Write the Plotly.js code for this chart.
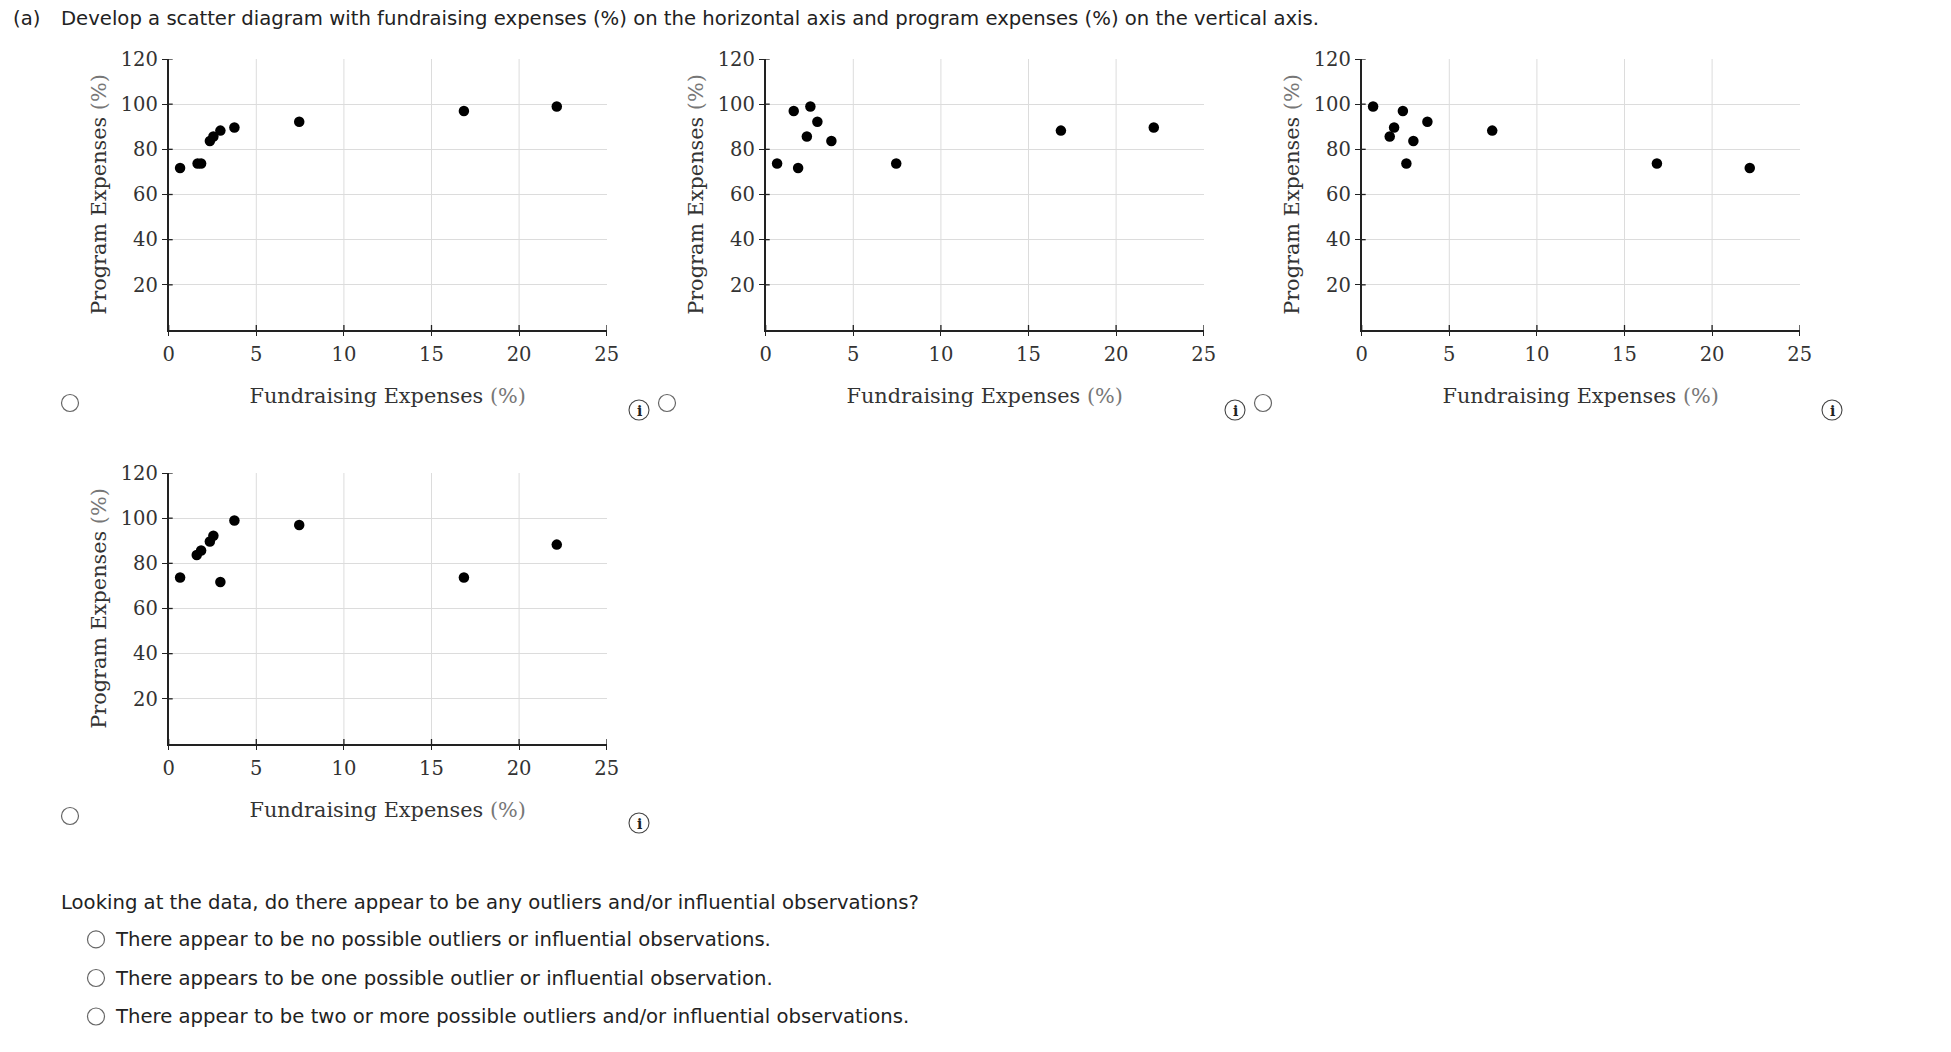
<!DOCTYPE html>
<html><head><meta charset="utf-8">
<script src="https://cdn.plot.ly/plotly-3.0.1.min.js"></script>
<style>html,body{margin:0;padding:0;background:#fff;overflow:hidden}</style>
</head><body><div id="chart" style="width:1951px;height:1052px"></div>
<script>
var W = 1951, H = 1052;
var xTicks = [0, 5, 10, 15, 20, 25];
var xGridVals = [5, 10, 15, 20];
var yTicks = [20, 40, 60, 80, 100, 120];
var xTitle = 'Fundraising Expenses <span style="color:#777">(%)</span>';
var yTitle = 'Program Expenses <span style="color:#777">(%)</span>';

var fundraising = [0.65, 1.65, 1.85, 2.35, 2.55, 2.95, 3.75, 7.45, 16.85, 22.15];
var programA = [71.7, 73.7, 73.7, 83.7, 85.7, 88.3, 89.7, 92.2, 97.0, 99.0];

var xB = [0.65, 1.6, 1.85, 2.35, 2.55, 2.95, 3.75, 7.45, 16.85, 22.15];
var programB = [73.7, 97.0, 71.7, 85.7, 99.0, 92.2, 83.7, 73.7, 88.3, 89.7];
var programC = [99.0, 85.7, 89.7, 97.0, 73.7, 83.7, 92.2, 88.3, 73.7, 71.7];
var programD = [73.7, 83.7, 85.7, 89.7, 92.2, 71.7, 99.0, 97.0, 73.7, 88.3];

var questionLine = '(a)';
var questionText = 'Develop a scatter diagram with fundraising expenses (%) on the horizontal axis and program expenses (%) on the vertical axis.';
var followUp = 'Looking at the data, do there appear to be any outliers and/or influential observations?';
var options = ['There appear to be no possible outliers or influential observations.',
  'There appears to be one possible outlier or influential observation.',
  'There appear to be two or more possible outliers and/or influential observations.'];

var panels = [
  {x: fundraising, y: programA, l: 168.7, r: 606.7, t: 59, b: 330, radio: [70, 403], info: [639, 410]},
  {x: xB, y: programB, l: 765.7, r: 1203.7, t: 59, b: 330, radio: [667, 403], info: [1235, 410]},
  {x: xB, y: programC, l: 1361.7, r: 1799.7, t: 59, b: 330, radio: [1263, 403], info: [1832, 410]},
  {x: xB, y: programD, l: 168.7, r: 606.7, t: 473, b: 744, radio: [70, 816], info: [639, 823]}
];

var serif = 'DejaVu Serif';
var sans = 'DejaVu Sans';
var px = function (v) { return v / W; };
var py = function (v) { return 1 - v / H; };
var traces = [], shapes = [], annotations = [];
var layout = {width: W, height: H, margin: {l: 0, r: 0, t: 0, b: 0}, showlegend: false,
  paper_bgcolor: '#fff', plot_bgcolor: '#fff', font: {family: serif, color: '#222'}};

function ring(cx, cy, r, col, w) {
  shapes.push({type: 'circle', xref: 'paper', yref: 'paper', x0: px(cx - r), x1: px(cx + r),
    y0: py(cy + r), y1: py(cy - r), line: {color: col, width: w}, fillcolor: 'rgba(0,0,0,0)'});
}
function label(text, x, y, size, family, anchor) {
  annotations.push({text: text, xref: 'paper', yref: 'paper', x: px(x), y: py(y), showarrow: false,
    xanchor: anchor || 'left', yanchor: 'middle', font: {family: family, size: size, color: '#222'}});
}

panels.forEach(function (p, i) {
  var n = i === 0 ? '' : String(i + 1);
  var xName = 'x' + n, yName = 'y' + n;
  traces.push({type: 'scatter', mode: 'markers', x: p.x, y: p.y, xaxis: xName, yaxis: yName,
    marker: {color: '#000', size: 10.5}, hoverinfo: 'x+y'});
  layout['xaxis' + n] = {domain: [px(p.l), px(p.r)], anchor: yName, range: [0, 25], tickmode: 'array', tickvals: xTicks,
    ticks: 'outside', ticklen: 4, tickwidth: 1.3, tickcolor: '#222', showline: true, linecolor: '#222', linewidth: 1.8,
    showgrid: false, zeroline: false, ticklabelstandoff: 2, tickfont: {family: serif, size: 19.5, color: '#333'},
    title: {text: xTitle, standoff: 23, font: {family: serif, size: 20.8, color: '#333'}}};
  layout['yaxis' + n] = {domain: [py(p.b), py(p.t)], anchor: xName, range: [0, 120], tickmode: 'array', tickvals: yTicks,
    ticks: 'outside', ticklen: 5, tickwidth: 1.3, tickcolor: '#222', showline: true, linecolor: '#222', linewidth: 1.8,
    showgrid: true, gridcolor: '#dcdcdc', gridwidth: 1, zeroline: false, tickfont: {family: serif, size: 19.5, color: '#333'},
    title: {text: yTitle, standoff: 8, font: {family: serif, size: 20.8, color: '#333'}}};
  xGridVals.forEach(function (v) {
    shapes.push({type: 'line', layer: 'below', xref: xName, yref: yName + ' domain', x0: v, x1: v, y0: 0, y1: 1,
      line: {color: '#dcdcdc', width: 1}});
  });
  xTicks.forEach(function (v) {
    shapes.push({type: 'line', xref: xName, yref: yName + ' domain', ysizemode: 'pixel', yanchor: 0, x0: v, x1: v, y0: 0, y1: 5,
      line: {color: '#222', width: 1.3}});
  });
  yTicks.forEach(function (v) {
    shapes.push({type: 'line', xref: xName + ' domain', yref: yName, xsizemode: 'pixel', xanchor: 0, y0: v, y1: v, x0: 0, x1: 4,
      line: {color: '#222', width: 1.3}});
  });
  ring(p.radio[0], p.radio[1], 8.5, '#666', 1.2);
  ring(p.info[0], p.info[1], 10, '#444', 1.1);
  label('<b>i</b>', p.info[0], p.info[1] + 1, 14, serif, 'center');
});

label(questionLine, 11, 18.7, 19.65, sans);
label(questionText, 59, 18.7, 19.65, sans);
label(followUp, 59, 902, 19.65, sans);
options.forEach(function (t, i) {
  var y = [939.4, 978, 1016.5][i];
  ring(96, y, 8.5, '#666', 1.2);
  label(t, 113, y, 19.65, sans);
});

layout.shapes = shapes;
layout.annotations = annotations;
Plotly.newPlot('chart', traces, layout, {displayModeBar: false, responsive: false});
</script></body></html>
